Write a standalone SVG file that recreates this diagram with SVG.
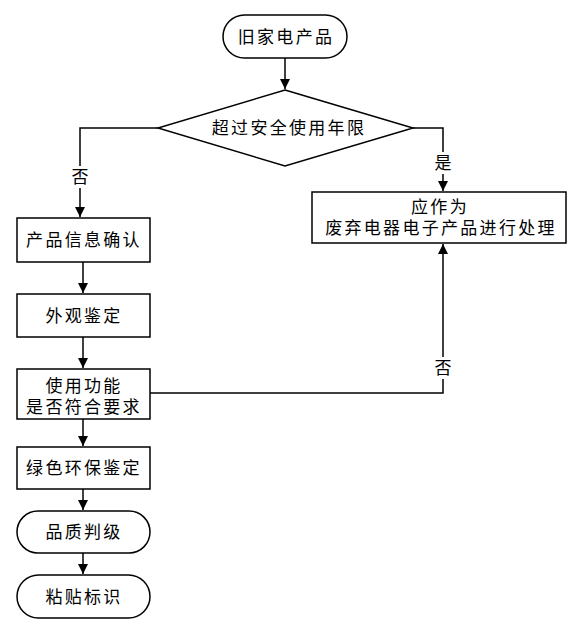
<svg xmlns="http://www.w3.org/2000/svg" width="584" height="634" viewBox="0 0 584 634">
<defs>
<marker id="ah" markerWidth="10" markerHeight="10" refX="10" refY="5" orient="auto" markerUnits="userSpaceOnUse">
<path d="M0,0 L10,5 L0,10 Z" fill="#000"/>
</marker>
<style>
.s{fill:#fff;stroke:#000;stroke-width:1.5}
.t{font-family:"Liberation Sans","Noto Sans CJK SC",sans-serif;font-size:17px;fill:#000;text-anchor:middle;letter-spacing:2.3px}
.c{fill:none;stroke:#000;stroke-width:1.5}
.l{font-family:"Liberation Sans","Noto Sans CJK SC",sans-serif;font-size:17px;fill:#000;text-anchor:middle}
</style>
</defs>
<rect width="584" height="634" fill="#fff"/>
<g id="connectors">
<path class="c" d="M285,58 V89" marker-end="url(#ah)"/>
<path class="c" d="M158,128 H80 V217" marker-end="url(#ah)"/>
<path class="c" d="M413,128 H443 V191" marker-end="url(#ah)"/>
<path class="c" d="M83,262 V293" marker-end="url(#ah)"/>
<path class="c" d="M83,337 V368" marker-end="url(#ah)"/>
<path class="c" d="M83,419 V446" marker-end="url(#ah)"/>
<path class="c" d="M83,489 V510" marker-end="url(#ah)"/>
<path class="c" d="M83,553 V574" marker-end="url(#ah)"/>
<path class="c" d="M150,393 H443 V244" marker-end="url(#ah)"/>
<rect x="70" y="166" width="20" height="22" fill="#fff"/>
<text class="l" x="80" y="183">否</text>
<rect x="433" y="152" width="20" height="22" fill="#fff"/>
<text class="l" x="443" y="169">是</text>
<rect x="433" y="357" width="20" height="22" fill="#fff"/>
<text class="l" x="443" y="374">否</text>
</g>
<g id="start">
<rect class="s" x="223" y="15" width="124" height="43" rx="21.5"/>
<text class="t" x="286" y="43">旧家电产品</text>
</g>
<g id="decision">
<path class="s" d="M285,90 L413,128 L285,166 L158,128 Z"/>
<text class="t" x="289" y="134">超过安全使用年限</text>
</g>
<g id="dispose">
<rect class="s" x="312" y="192" width="254" height="51"/>
<text class="t" y="213"><tspan x="440">应作为</tspan><tspan x="441" dy="21">废弃电器电子产品进行处理</tspan></text>
</g>
<g id="confirm">
<rect class="s" x="17" y="218" width="133" height="44"/>
<text class="t" x="84" y="246">产品信息确认</text>
</g>
<g id="appearance">
<rect class="s" x="17" y="294" width="133" height="43"/>
<text class="t" x="84" y="322">外观鉴定</text>
</g>
<g id="function">
<rect class="s" x="17" y="369" width="133" height="50"/>
<text class="t" y="392"><tspan x="84">使用功能</tspan><tspan x="84" dy="21">是否符合要求</tspan></text>
</g>
<g id="green">
<rect class="s" x="17" y="447" width="133" height="42"/>
<text class="t" x="84" y="474">绿色环保鉴定</text>
</g>
<g id="grade">
<rect class="s" x="17" y="511" width="133" height="42" rx="21"/>
<text class="t" x="84" y="538">品质判级</text>
</g>
<g id="label">
<rect class="s" x="17" y="575" width="133" height="43" rx="21.5"/>
<text class="t" x="84" y="603">粘贴标识</text>
</g>
</svg>
